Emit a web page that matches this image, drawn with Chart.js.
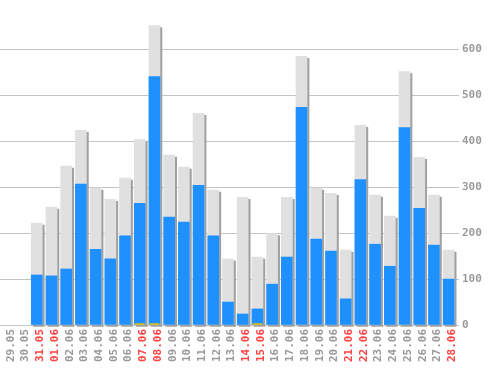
<!DOCTYPE html>
<html>
<head>
<meta charset="utf-8">
<script src="https://cdn.jsdelivr.net/npm/chart.js@4/dist/chart.umd.min.js"></script>
<style>
html,body{margin:0;padding:0;background:#fff;}
#wrap{width:498px;height:370px;}
</style>
</head>
<body>
<div id="wrap"><canvas id="c" width="498" height="370"></canvas></div>
<script>
const categories = ["29.05","30.05","31.05","01.06","02.06","03.06","04.06","05.06","06.06","07.06","08.06","09.06","10.06","11.06","12.06","13.06","14.06","15.06","16.06","17.06","18.06","19.06","20.06","21.06","22.06","23.06","24.06","25.06","26.06","27.06","28.06"];
const totalValues = [null,null,222,257,346,424,298,274,320,404,652,370,344,461,294,144,278,148,199,278,585,298,287,163,435,283,237,552,365,283,163];
const blueValues = [null,null,109,107,122,307,165,144,194,265,541,235,224,304,194,50,24,35,89,148,474,187,161,57,317,176,128,430,254,174,100];
const yellowValues = [null,null,null,null,null,null,null,null,null,3,3,null,null,null,null,null,null,3,null,null,null,null,null,null,null,null,null,null,null,null,null];
const redLabels = ["31.05","01.06","07.06","08.06","14.06","15.06","21.06","22.06","28.06"];
const yTicks = [0,100,200,300,400,500,600];

const shadowPlugin = {
  id: 'shadow',
  beforeDatasetDraw(chart, args) {
    const ds = chart.data.datasets[args.index];
    chart.ctx.save();
    if (ds.shadow) {
      chart.ctx.shadowColor = '#a0a0a0';
      chart.ctx.shadowOffsetX = 2;
      chart.ctx.shadowOffsetY = 2;
      chart.ctx.shadowBlur = 0;
    }
  },
  afterDatasetDraw(chart) { chart.ctx.restore(); }
};

const font = {family: '"DejaVu Sans Mono", monospace', size: 11, weight: 'bold'};

new Chart(document.getElementById('c'), {
  type: 'bar',
  data: {
    labels: categories,
    datasets: [
      {data: yellowValues, backgroundColor: '#f2c200', barThickness: 9, grouped: false, clip: false, order: 0},
      {data: blueValues, backgroundColor: '#1e90ff', barThickness: 11, grouped: false, clip: false, order: 1},
      {data: totalValues, backgroundColor: '#e0e0e0', barThickness: 11, grouped: false, clip: false, order: 2, shadow: true}
    ]
  },
  options: {
    responsive: false,
    animation: false,
    events: [],
    layout: {padding: {left: -2.5, top: 3, right: 0, bottom: 0}},
    plugins: {legend: {display: false}, tooltip: {enabled: false}},
    scales: {
      x: {
        offset: true,
        grid: {display: false, drawTicks: false},
        border: {display: false},
        afterFit(s) { s.height = 45; },
        ticks: {
          minRotation: 90, maxRotation: 90, autoSkip: false, padding: 4,
          labelOffset: 3.5,
          font: font,
          color: (ctx) => redLabels.includes(categories[ctx.index]) ? '#ff4444' : '#9a9a9a'
        }
      },
      y: {
        position: 'right',
        min: 0, max: 687,
        afterBuildTicks(s) { s.ticks = yTicks.map(v => ({value: v})); },
        afterFit(s) { s.width = 42; },
        grid: {color: '#c4c4c4', lineWidth: 1, tickLength: 3, drawTicks: true},
        border: {display: false},
        ticks: {padding: 3, font: font, color: '#9a9a9a'}
      }
    }
  },
  plugins: [shadowPlugin]
});
</script>
</body>
</html>
